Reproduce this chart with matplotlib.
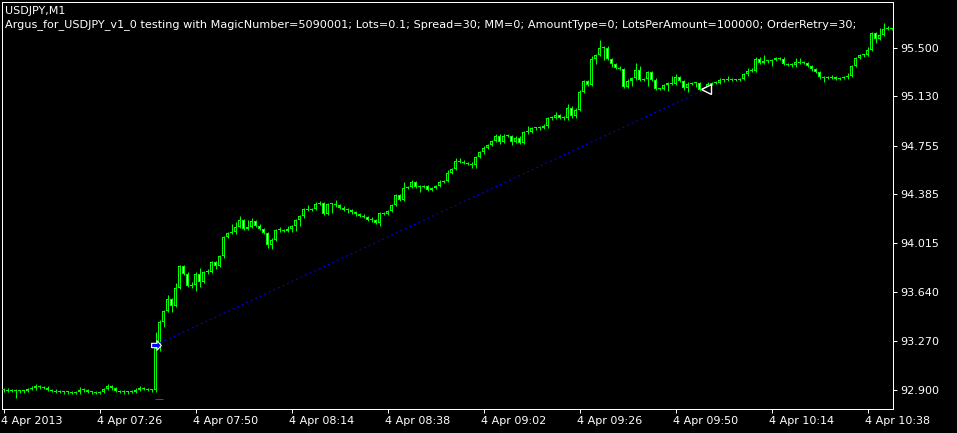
import matplotlib
matplotlib.use("Agg")
import matplotlib.pyplot as plt
from matplotlib.transforms import ScaledTranslation
import numpy as np

# USDJPY M1 closes, one per minute from 07:02
closes = [
    92.900, 92.893, 92.896, 92.890, 92.888, 92.892, 92.905, 92.910, 92.925, 92.918,
    92.915, 92.898, 92.893, 92.885, 92.882, 92.880, 92.884, 92.878, 92.880, 92.900,
    92.895, 92.882, 92.880, 92.878, 92.884, 92.905, 92.925, 92.910, 92.890, 92.885,
    92.880, 92.883, 92.886, 92.900, 92.910, 92.905, 92.898, 92.895,
    93.218, 93.418,
    93.499, 93.590, 93.539, 93.674, 93.841, 93.782, 93.691, 93.697, 93.782, 93.722,
    93.793, 93.798, 93.869, 93.841, 93.915, 94.061, 94.092, 94.097, 94.137, 94.188,
    94.122, 94.137, 94.183, 94.147, 94.122, 94.092, 94.001, 94.041, 94.112, 94.114,
    94.107, 94.122, 94.145, 94.188, 94.219, 94.274, 94.269, 94.274, 94.314, 94.316,
    94.238, 94.310, 94.310, 94.301, 94.284, 94.269, 94.264, 94.249, 94.234, 94.223,
    94.213, 94.193, 94.188, 94.168, 94.244, 94.236, 94.259, 94.305, 94.381, 94.345,
    94.436, 94.441, 94.477, 94.441, 94.444, 94.446, 94.421, 94.434, 94.449, 94.482,
    94.487, 94.548, 94.578, 94.639, 94.634, 94.624, 94.618, 94.612, 94.669, 94.705,
    94.740, 94.761, 94.791, 94.831, 94.786, 94.831, 94.829, 94.783, 94.816, 94.776,
    94.857, 94.858, 94.887, 94.888, 94.892, 94.903, 94.963, 94.968, 94.989, 94.968,
    94.963, 95.039, 94.979, 95.029, 95.166, 95.247, 95.217, 95.414, 95.445, 95.495,
    95.500, 95.414, 95.374, 95.348, 95.338, 95.201, 95.250, 95.267, 95.333, 95.257,
    95.262, 95.313, 95.257, 95.186, 95.187, 95.217, 95.232, 95.226, 95.277, 95.247,
    95.196, 95.226, 95.228, 95.232, 95.181, 95.194, 95.226, 95.232, 95.233, 95.252,
    95.253, 95.262, 95.254, 95.255, 95.262, 95.298, 95.323, 95.325, 95.416, 95.386,
    95.397, 95.398, 95.407, 95.422, 95.416, 95.376, 95.371, 95.366, 95.391, 95.386,
    95.384, 95.361, 95.336, 95.315, 95.275, 95.270, 95.271, 95.275, 95.262, 95.270,
    95.275, 95.285, 95.361, 95.422, 95.442, 95.444, 95.483, 95.609, 95.568, 95.597,
    95.644, 95.642, 95.641,
]
first_open = 92.895

# wick lengths above / below the body, in pips
hi_wick = [
    1, 1, 1, 1, 1, 1, 1, 2, 2, 1,  1, 1, 1, 1, 1, 1, 1, 1, 1, 2,
    1, 1, 1, 1, 1, 1, 2, 1, 1, 1,  1, 1, 1, 1, 2, 1, 1, 1,
    12, 1,
    1, 3, 1, 4, 1, 1, 1, 2, 1, 4,  1, 2, 1, 1, 1, 1, 1, 6, 4, 3,
    1, 5, 2, 1, 1, 1, 1, 1, 1, 2,  1, 2, 1, 1, 1, 1, 3, 1, 1, 2,
    1, 1, 1, 3, 1, 1, 1, 1, 1, 1,  1, 1, 2, 1, 1, 1, 1, 1, 1, 1,
    4, 1, 2, 1, 1, 1, 1, 1, 1, 1,  1, 2, 1, 2, 2, 1, 1, 1, 1, 1,
    1, 1, 1, 1, 1, 1, 1, 1, 1, 1,  1, 5, 1, 1, 1, 2, 1, 1, 2, 1,
    1, 3, 2, 1, 1, 1, 1, 2, 1, 6,  1, 1, 1, 1, 1, 1, 1, 1, 5, 3,
    1, 1, 1, 1, 1, 1, 1, 5, 2, 1,  1, 1, 1, 1, 1, 1, 1, 1, 1, 2,
    1, 2, 1, 1, 1, 1, 2, 2, 1, 1,  5, 1, 1, 1, 1, 1, 1, 1, 3, 3,
    1, 1, 1, 1, 1, 1, 1, 2, 1, 1,  1, 2, 1, 1, 1, 1, 2, 1, 1, 5,
    4, 2, 1,
]
lo_wick = [
    1, 1, 1, 5, 1, 1, 1, 1, 1, 1,  1, 1, 1, 1, 1, 1, 1, 1, 1, 1,
    1, 1, 1, 1, 1, 1, 1, 1, 1, 1,  1, 1, 1, 1, 1, 1, 1, 1,
    1, 2,
    4, 1, 5, 1, 1, 1, 1, 2, 5, 4,  1, 1, 1, 2, 1, 1, 1, 1, 1, 1,
    1, 1, 1, 1, 1, 1, 2, 3, 1, 1,  1, 1, 2, 4, 4, 1, 1, 1, 1, 1,
    1, 1, 7, 1, 1, 1, 2, 1, 1, 1,  1, 1, 1, 1, 2, 1, 1, 1, 1, 1,
    1, 1, 1, 1, 4, 1, 1, 1, 1, 1,  1, 1, 1, 1, 1, 1, 1, 3, 3, 1,
    1, 1, 1, 1, 2, 1, 1, 2, 1, 1,  1, 1, 1, 1, 1, 1, 1, 1, 1, 1,
    1, 1, 1, 1, 1, 1, 1, 1, 4, 1,  9, 1, 2, 1, 1, 1, 1, 4, 1, 1,
    1, 5, 1, 1, 1, 1, 5, 1, 1, 1,  2, 3, 1, 3, 1, 1, 1, 1, 1, 1,
    1, 1, 1, 1, 1, 1, 1, 1, 1, 1,  1, 1, 4, 1, 1, 1, 1, 1, 1, 1,
    1, 1, 1, 1, 1, 3, 1, 1, 1, 1,  1, 1, 1, 1, 1, 1, 1, 1, 3, 1,
    1, 1, 1,
]

price_ticks = [95.500, 95.130, 94.755, 94.385, 94.015, 93.640, 93.270, 92.900]
time_ticks = [0, 24, 48, 72, 96, 120, 144, 168, 192, 216]
time_labels = ["4 Apr 2013", "4 Apr 07:26", "4 Apr 07:50", "4 Apr 08:14", "4 Apr 08:38",
               "4 Apr 09:02", "4 Apr 09:26", "4 Apr 09:50", "4 Apr 10:14", "4 Apr 10:38"]

# the one trade: buy at bar 38, closed at bar 175
trade_open = (38, 93.24)
trade_close = (175.5, 95.185)
stop_level = 92.83

title1 = "USDJPY,M1"
title2 = ("Argus_for_USDJPY_v1_0 testing with MagicNumber=5090001; Lots=0.1; Spread=30; "
          "MM=0; AmountType=0; LotsPerAmount=100000; OrderRetry=30;")

green = "#00ff00"
px = 0.72  # one pixel in points

c = np.array(closes)
o = np.concatenate([[first_open], c[:-1]])
hi = np.maximum(o, c) + np.array(hi_wick) * 0.01
lo = np.minimum(o, c) - np.array(lo_wick) * 0.01
x = np.arange(len(c))

fig = plt.figure(figsize=(9.57, 4.33), dpi=100, facecolor="black")
ax = fig.add_axes([2 / 957, 24 / 433, 891 / 957, 407 / 433])
ax.set_facecolor("black")
ax.set_xlim(-0.375, 222.375)
ax.set_ylim(92.754, 95.847)
ypx = (95.847 - 92.754) / 407  # price of one pixel

# wicks, then a 3px green body with a 1px black (up) / white (down) inside
ax.vlines(x, lo, hi, color=green, lw=px, zorder=2)
bottom = np.minimum(o, c)
height = np.maximum(np.abs(c - o), ypx)
ax.bar(x, height, bottom=bottom, width=0.75, color=green, lw=0, zorder=3)
inner = np.abs(c - o) > 2.5 * ypx
faces = np.where(c >= o, "black", "white")
ax.bar(x[inner], height[inner] - 2 * ypx, bottom=bottom[inner] + ypx, width=0.25,
       color=faces[inner], lw=0, zorder=4)

# trade line and arrows
ax.plot([trade_open[0], trade_close[0]], [trade_open[1], trade_close[1]],
        color="#0000ff", lw=px, ls=(0, (2, 3)), zorder=4)
arrow = [(-1, -0.45), (0.1, -0.45), (0.1, -1), (1, 0), (0.1, 1), (0.1, 0.45), (-1, 0.45), (-1, -0.45)]
ax.plot(trade_open[0], trade_open[1], marker=arrow, ms=7, mfc="#0000ff", mec="white",
        mew=0.8, zorder=5)
ax.plot(trade_close[0], trade_close[1], marker="<", ms=7, mfc="black", mec="white",
        mew=1.0, zorder=5)
ax.hlines(stop_level, 37.9, 39.8, color="red", lw=px, zorder=4)

for s in ax.spines.values():
    s.set_color("white")
    s.set_linewidth(px)

ax.yaxis.tick_right()
ax.set_yticks(price_ticks)
ax.set_yticklabels([f"{v:.3f}" for v in price_ticks])
ax.set_xticks(time_ticks)
ax.set_xticklabels(time_labels, ha="left")
ax.tick_params(colors="white", labelsize=8, length=3, width=px, pad=2)
shift = ScaledTranslation(-2 / 72, 0, fig.dpi_scale_trans)
for lbl in ax.get_xticklabels():
    lbl.set_transform(lbl.get_transform() + shift)

fig.text(5 / 957, 1 - 6 / 433, title1, color="white", fontsize=8, va="top")
fig.text(5 / 957, 1 - 19 / 433, title2, color="white", fontsize=8.1, va="top")

fig.savefig("out.png", dpi=100, facecolor="black")
